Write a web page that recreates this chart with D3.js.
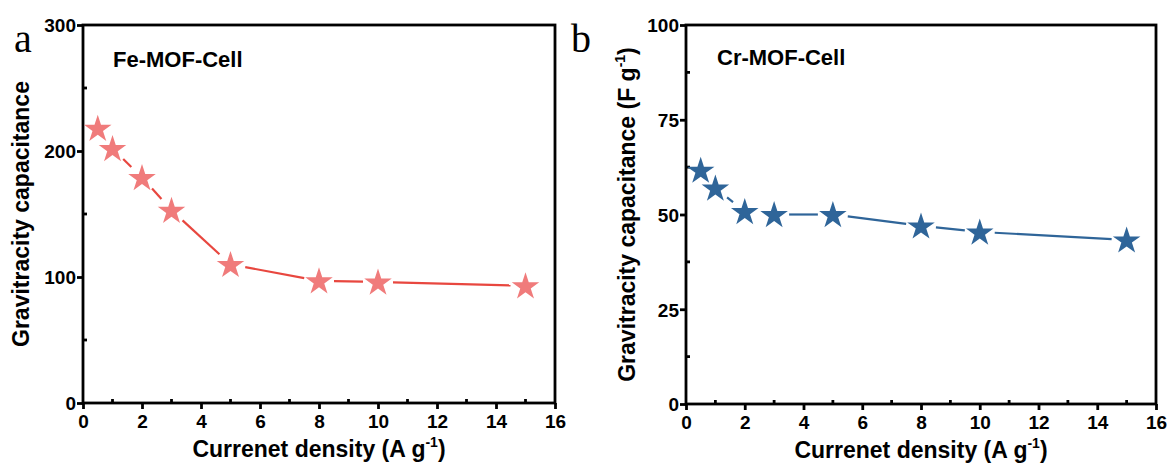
<!DOCTYPE html>
<html>
<head>
<meta charset="utf-8">
<script src="https://cdn.jsdelivr.net/npm/d3@7"></script>
<style>
  html, body { margin: 0; padding: 0; background: #fff; }
  svg { display: block; }
  text { font-family: Arial, "Liberation Sans", sans-serif; font-weight: bold; fill: #000; }
</style>
</head>
<body>
<svg id="chart" width="1170" height="468"></svg>
<script>
// Current densities (A g^-1)
const currentDensity = [0.5, 1, 2, 3, 5, 8, 10, 15];
// Gravimetric capacitance (F g^-1)
const feCapacitance = [218, 202, 179, 153, 110, 97, 96, 93];
const crCapacitance = [61.7, 57, 50.8, 50, 50, 47, 45.4, 43.3];

const xTicks = [0, 2, 4, 6, 8, 10, 12, 14, 16];
const feYTicks = [0, 100, 200, 300];
const crYTicks = [0, 25, 50, 75, 100];

const svg = d3.select("#chart");

const panels = [
  {
    letter: "a", title: "Fe-MOF-Cell",
    values: feCapacitance, yDomain: [0, 300], yTicks: feYTicks, yMinorStep: 50,
    yLabel: "Gravitracity capacitance", yLabelSup: null,
    left: 83, right: 555, top: 25, bottom: 403,
    starFill: "#F07B7B", lineColor: "#E8473F",
    letterX: 14, titleX: 113, titleY: 67, yLabelX: 29, xLabelY: 457
  },
  {
    letter: "b", title: "Cr-MOF-Cell",
    values: crCapacitance, yDomain: [0, 100], yTicks: crYTicks, yMinorStep: 12.5,
    yLabel: "Gravitracity capacitance (F g", yLabelSup: "-1",
    left: 686, right: 1156, top: 25, bottom: 404,
    starFill: "#2F6599", lineColor: "#2F6599",
    letterX: 571, titleX: 717, titleY: 65, yLabelX: 635, xLabelY: 458
  }
];

const xMinor = d3.range(1, 16, 2);

panels.forEach(p => {
  const x = d3.scaleLinear().domain([0, 16]).range([p.left, p.right]);
  const y = d3.scaleLinear().domain(p.yDomain).range([p.bottom, p.top]);
  const g = svg.append("g");

  // Major ticks pointing outward
  const xAxis = d3.axisBottom(x).tickValues(xTicks).tickSize(6).tickPadding(6).tickFormat(d3.format("d"));
  const yAxis = d3.axisLeft(y).tickValues(p.yTicks).tickSize(6).tickPadding(1).tickFormat(d3.format("d"));

  const gx = g.append("g").attr("transform", `translate(0,${p.bottom})`).call(xAxis);
  const gy = g.append("g").attr("transform", `translate(${p.left},0)`).call(yAxis);
  [gx, gy].forEach(a => {
    a.select(".domain").remove();
    a.selectAll(".tick line").attr("stroke", "#000").attr("stroke-width", 2.8);
    a.selectAll(".tick text").style("font-size", "19px").style("font-family", "Arial, 'Liberation Sans', sans-serif").style("font-weight", "bold").attr("fill", "#000");
  });
  gy.selectAll(".tick text").attr("dy", "0.36em");

  // Minor ticks pointing inward
  g.append("g").selectAll("line").data(xMinor).join("line")
    .attr("x1", d => x(d)).attr("x2", d => x(d))
    .attr("y1", p.bottom).attr("y2", p.bottom - 4)
    .attr("stroke", "#000").attr("stroke-width", 2.8);
  const yMinor = d3.range(p.yDomain[0] + p.yMinorStep, p.yDomain[1], p.yMinorStep * 2);
  g.append("g").selectAll("line").data(yMinor).join("line")
    .attr("x1", p.left).attr("x2", p.left + 4)
    .attr("y1", d => y(d)).attr("y2", d => y(d))
    .attr("stroke", "#000").attr("stroke-width", 2.8);

  // Frame
  g.append("rect")
    .attr("x", p.left).attr("y", p.top)
    .attr("width", p.right - p.left).attr("height", p.bottom - p.top)
    .attr("fill", "none").attr("stroke", "#000").attr("stroke-width", 2.8);

  // Connecting line with gaps around each symbol
  const pts = currentDensity.map((d, i) => [x(d), y(p.values[i])]);
  const gap = 15;
  const segs = [];
  for (let i = 0; i < pts.length - 1; i++) {
    const [x1, y1] = pts[i], [x2, y2] = pts[i + 1];
    const len = Math.hypot(x2 - x1, y2 - y1);
    if (len > 2 * gap) {
      const ux = (x2 - x1) / len, uy = (y2 - y1) / len;
      segs.push([x1 + ux * gap, y1 + uy * gap, x2 - ux * gap, y2 - uy * gap]);
    }
  }
  g.append("g").selectAll("line").data(segs).join("line")
    .attr("x1", d => d[0]).attr("y1", d => d[1])
    .attr("x2", d => d[2]).attr("y2", d => d[3])
    .attr("stroke", p.lineColor).attr("stroke-width", 2.2);

  // Star symbols
  const star = d3.symbol().type(d3.symbolStar).size(235);
  g.append("g").selectAll("path").data(pts).join("path")
    .attr("d", star)
    .attr("transform", d => `translate(${d[0]},${d[1] + 1})`)
    .attr("fill", p.starFill);

  // Panel letter
  svg.append("text")
    .attr("x", p.letterX).attr("y", 52)
    .style("font-family", "'Liberation Serif', 'Times New Roman', serif")
    .style("font-weight", "normal")
    .style("font-size", "40px")
    .text(p.letter);

  // Sample title
  svg.append("text")
    .attr("x", p.titleX).attr("y", p.titleY)
    .style("font-size", "22px")
    .text(p.title);

  // X axis title
  const xl = svg.append("text")
    .attr("x", (p.left + p.right) / 2).attr("y", p.xLabelY)
    .attr("text-anchor", "middle")
    .style("font-size", "23px");
  xl.append("tspan").text("Currenet density (A g");
  xl.append("tspan").attr("dy", -10).style("font-size", "14px").text("-1");
  xl.append("tspan").attr("dy", 10).text(")");

  // Y axis title
  const yl = svg.append("text")
    .attr("transform", `translate(${p.yLabelX},${(p.top + p.bottom) / 2}) rotate(-90)`)
    .attr("text-anchor", "middle")
    .style("font-size", "23px");
  yl.append("tspan").text(p.yLabel);
  if (p.yLabelSup) {
    yl.append("tspan").attr("dy", -10).style("font-size", "14px").text(p.yLabelSup);
    yl.append("tspan").attr("dy", 10).text(")");
  }
});
</script>
</body>
</html>
